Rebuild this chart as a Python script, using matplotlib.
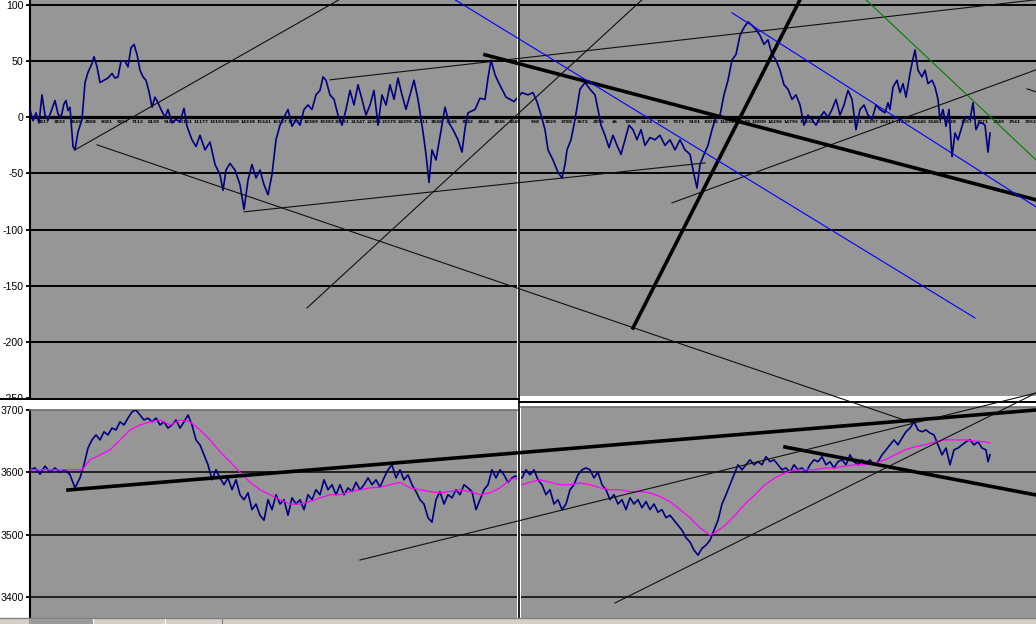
import numpy as np
import matplotlib.pyplot as plt
from matplotlib.patches import Rectangle
from matplotlib.lines import Line2D

W, H = 1036, 624

# oscillator (top chart): bar number, value
top_x = [0, 3, 6, 9, 12, 15, 18, 21, 25, 28, 31, 34, 36, 38, 40, 43, 45, 48, 52, 55,
         58, 62, 64, 67, 70, 74, 78, 82, 85, 88, 91, 95, 98, 101, 104, 107, 110, 113, 116, 119,
         122, 125, 128, 131, 135, 138, 142, 146, 150, 154, 157, 162, 166, 170, 175, 180, 185, 190, 193, 196,
         200, 205, 210, 214, 218, 222, 226, 230, 234, 238, 242, 246, 250, 254, 258, 262, 266, 270, 274, 278,
         282, 286, 290, 293, 296, 300, 304, 308, 312, 316, 320, 324, 328, 332, 336, 340, 344, 348, 352, 356,
         360, 364, 368, 372, 376, 380, 384, 388, 393, 396, 399, 402, 406, 410, 415, 419, 423, 428, 432, 435,
         438, 445, 450, 455, 458, 461, 465, 468, 472, 476, 480, 484,
         492, 498, 503, 507, 511, 515, 518, 523, 528, 532, 535, 537, 541, 545, 550, 555, 560, 565, 568, 571,
         575, 579, 583, 587, 591, 595, 599, 603, 607, 611, 615, 620, 625, 630, 635, 640, 645, 650, 655, 660,
         664, 667, 670, 674, 678, 682, 686, 690, 694, 698, 702, 706, 710, 714, 718, 722, 726, 730, 734, 738,
         742, 746, 750, 754, 758, 762, 766, 770, 774, 778, 782, 786, 790, 794, 798, 802, 806, 810, 814, 818,
         822, 826, 830, 834, 838, 842, 846, 850, 855, 858, 860, 863, 867, 870, 873, 876, 880, 882, 885, 888,
         892, 895, 898, 902, 905, 908, 910, 913, 916, 919, 922, 925, 928, 931, 934, 937, 940, 943, 946, 949,
         952, 955, 958, 960]
top_v = [7, -3, 4, -5, 20, 2, -2, 5, 15, 3, 0, 12, 15, 6, 9, -26, -29, -13, -2, 31,
         40, 48, 54, 45, 31, 33, 35, 39, 35, 36, 50, 50, 45, 62, 65, 56, 42, 36, 33, 23,
         9, 18, 13, 7, 0, 7, -5, -2, -4, 8, -8, -20, -26, -16, -29, -22, -42, -51, -65, -47,
         -41, -47, -60, -82, -56, -42, -54, -47, -60, -69, -51, -20, -7, 0, 7, -8, -2, -7, 7, 11,
         7, 20, 24, 36, 33, 20, 16, 2, -7, 7, 24, 11, 29, 16, 2, 11, 24, -7, 20, 11,
         29, 16, 35, 20, 7, 20, 33, 16, -13, -33, -58, -29, -38, -17, 9, -5, -11, -20, -31, -10,
         4, 7, 17, 16, 35, 51, 38, 32, 25, 18, 16, 14,
         22, 20, 22, 14, 2, -11, -29, -38, -49, -54, -42, -29, -20, -2, 25, 31, 25, 20, 7, -7,
         -16, -27, -16, -25, -33, -20, -7, -11, -20, -11, -25, -18, -20, -16, -25, -20, -29, -20, -29, -33,
         -51, -63, -42, -33, -25, -11, 0, 2, 20, 33, 51, 56, 73, 80, 85, 82, 78, 73, 65, 69,
         56, 51, 42, 29, 25, 16, 20, 11, -7, 2, -2, -7, 0, 5, 0, 7, 16, 2, 11, 24,
         16, -11, 7, 11, 2, -2, 11, 7, 4, 13, 7, 27, 33, 22, 30, 18, 39, 48, 60, 42,
         36, 42, 30, 33, 27, 16, -2, 7, -8, 7, -35, -14, -20, -11, -2, 0, -2, 13, -11, -5,
         -5, -7, -31, -14]

# price (bottom chart)
bot_x = [0, 5, 10, 15, 20, 25, 30, 35, 40, 45, 50, 54, 58, 62, 66, 70, 74, 78, 82, 86,
         90, 94, 98, 102, 106, 110, 114, 118, 122, 126, 130, 134, 138, 142, 146, 150, 154, 158, 162, 166,
         170, 174, 178, 182, 186, 190, 194, 198, 202, 206, 210, 214, 218, 222, 226, 230, 234, 238, 242, 246,
         250, 254, 258, 262, 266, 270, 274, 278, 282, 286, 290, 294, 298, 302, 306, 310, 314, 318, 322, 326,
         330, 334, 338, 342, 346, 350, 354, 358, 362, 366, 370, 374, 378, 382, 386, 390, 394, 398, 402, 406,
         410, 414, 418, 422, 426, 430, 434, 438, 442, 446, 450, 454, 458, 462, 466, 470, 474, 478, 482, 485,
         492, 496, 500, 504, 508, 512, 516, 520, 524, 528, 532, 536, 540, 544, 548, 552, 556, 560, 564, 568,
         572, 576, 580, 584, 588, 592, 596, 600, 604, 608, 612, 616, 620, 624, 628, 632, 636, 640, 644, 648,
         652, 656, 660, 664, 668, 672, 676, 680, 684, 688, 692, 696, 700, 704, 708, 712, 716, 720, 724, 728,
         732, 736, 740, 744, 748, 752, 756, 760, 764, 768, 772, 776, 780, 784, 788, 792, 796, 800, 804, 808,
         812, 816, 820, 824, 828, 832, 836, 840, 844, 848, 852, 856, 860, 864, 868, 872, 876, 880, 884, 888,
         892, 896, 900, 904, 908, 912, 916, 920, 924, 928, 932, 936, 940, 944, 948, 952, 956, 958, 960]
bot_v = [3604, 3607, 3597, 3610, 3600, 3607, 3600, 3604, 3596, 3575, 3591, 3612, 3639, 3652, 3660, 3652, 3665, 3660, 3671, 3668,
         3681, 3676, 3687, 3697, 3700, 3692, 3684, 3687, 3681, 3687, 3676, 3681, 3671, 3676, 3684, 3671, 3681, 3692, 3676, 3652,
         3644, 3628, 3612, 3588, 3604, 3591, 3580, 3591, 3572, 3588, 3564, 3556, 3567, 3540, 3549, 3531, 3523, 3556, 3540, 3564,
         3549, 3556, 3531, 3559, 3549, 3556, 3540, 3564, 3556, 3572, 3564, 3588, 3572, 3580, 3564, 3580, 3564, 3575, 3569, 3584,
         3572, 3580, 3591, 3580, 3588, 3576, 3591, 3604, 3612, 3591, 3604, 3588, 3596, 3580, 3569, 3556, 3549, 3527, 3520, 3556,
         3569, 3549, 3564, 3559, 3572, 3564, 3580, 3575, 3569, 3540, 3556, 3572, 3580, 3604, 3591, 3604, 3596, 3584, 3591, 3594,
         3591, 3604, 3596, 3604, 3588, 3580, 3564, 3572, 3549, 3556, 3540, 3549, 3572, 3580, 3596, 3604, 3607, 3604, 3591, 3600,
         3580, 3572, 3556, 3564, 3549, 3556, 3540, 3559, 3549, 3556, 3543, 3553, 3540, 3549, 3536, 3540, 3527, 3531, 3523, 3515,
         3507, 3495, 3488, 3475, 3467, 3478, 3483, 3491, 3507, 3523, 3549, 3564, 3580, 3596, 3612, 3604, 3612, 3620, 3612, 3617,
         3612, 3625, 3617, 3620, 3612, 3604, 3607, 3600, 3612, 3604, 3607, 3600, 3612, 3620, 3617, 3625, 3612, 3617, 3607, 3617,
         3620, 3612, 3628, 3617, 3612, 3620, 3615, 3620, 3612, 3617, 3628, 3636, 3644, 3652, 3644, 3655, 3665, 3671, 3681, 3668,
         3665, 3668, 3663, 3660, 3644, 3628, 3639, 3612, 3636, 3639, 3644, 3649, 3652, 3644, 3649, 3639, 3636, 3617, 3628]

# moving average of price
ma_x = [0, 52, 60, 70, 80, 90, 100, 110, 120, 130, 140, 150, 160, 170, 180, 190, 200, 210, 220, 230,
        240, 250, 260, 270, 280, 290, 300, 310, 320, 330, 340, 350, 360, 370, 380, 390, 400, 410, 420, 430,
        440, 450, 460, 470, 480, 485,
        492, 500, 510, 520, 530, 540, 550, 560, 570, 580, 590, 600, 610, 620, 630, 640, 650, 660, 670, 680,
        686, 695, 705, 715, 725, 735, 745, 755, 765, 775, 785, 795, 805, 815, 825, 835, 845, 855, 865, 875,
        885, 895, 905, 915, 925, 935, 945, 955, 960]
ma_v = [3604, 3604, 3620, 3628, 3636, 3652, 3668, 3676, 3681, 3684, 3676, 3684, 3681, 3668, 3652, 3633, 3617, 3600, 3584, 3572,
        3564, 3556, 3549, 3549, 3553, 3559, 3564, 3564, 3569, 3572, 3575, 3576, 3580, 3584, 3575, 3572, 3569, 3567, 3569, 3572,
        3569, 3564, 3567, 3575, 3588, 3591,
        3580, 3584, 3588, 3584, 3580, 3580, 3583, 3580, 3575, 3572, 3572, 3569, 3569, 3567, 3561, 3553, 3540, 3527, 3511, 3499,
        3504, 3515, 3531, 3549, 3564, 3580, 3591, 3599, 3604, 3604, 3604, 3607, 3607, 3610, 3612, 3612, 3615, 3620, 3628, 3636,
        3641, 3644, 3649, 3652, 3652, 3652, 3650, 3649, 3647]

top_grid = [100, 50, -50, -100, -150, -200]
top_ticks = [100, 50, 0, -50, -100, -150, -200, -250]
bot_grid = [3600, 3500, 3400]
bot_ticks = [3700, 3600, 3500, 3400]

left_labels = ["3817", "3833", "3849", "4868", "5081", "5857", "7112", "8139", "9185", "10161",
               "11177", "13193", "13309", "14338", "15341", "16357", "17373", "18389", "19383", "20331",
               "21347", "22363", "23379", "24395", "25411", "3848", "3845", "3842", "3844", "3846", "3848"]
right_labels = ["938", "3829", "3788", "3672", "4896", "46", "7808", "9134", "7383", "7373",
                "9191", "10018", "11832", "11549", "13809", "14296", "14795", "15834", "16999", "18051",
                "18381", "19397", "20413", "21429", "22445", "23461", "3728", "3857", "3871", "3849",
                "3941", "3952"]

# hand drawn trend lines, ((bar, value), (bar, value))
thin_top = [((45, -29.0), (309, 104.7)),
            ((67, -24.5), (883, -272.3)),
            ((214, -84.2), (675, -40.6)),
            ((277, -169.8), (612, 104.7)),
            ((300, 33.4), (1006, 104.7)),
            ((642, -76.2), (1006, 42.3)),
            ((997, 25.4), (1006, 22.7))]
thick_top = [((455, 55.7), (1006, -73.5)),
             ((603, -187.6), (770, 104.7))]
blue_top = [((425, 104.7), (945, -178.7)),
            ((702, 93.1), (1006, -79.8))]
green_top = [((836, 104.7), (1006, -37.9))]
thick_bot = [((38, 3571.6), (1006, 3700.0)),
             ((755, 3640.6), (1006, 3563.6))]
thin_bot = [((330, 3459.2), (1006, 3727.3)),
            ((585, 3390.2), (1006, 3727.3))]

GRAY = '#969696'
NAVY = '#000080'

plt.rcParams['font.family'] = ['Liberation Sans', 'DejaVu Sans']

fig = plt.figure(figsize=(W / 100, H / 100), dpi=100)
fig.patch.set_facecolor('white')


def px_axes(x0, y0, x1, y1, z):
    return fig.add_axes([x0 / W, 1 - y1 / H, (x1 - x0) / W, (y1 - y0) / H], zorder=z)


ax_tl = px_axes(30, 0, 517, 398, 0)
ax_tr = px_axes(520, 0, 1036, 396, 0)
ax_bl = px_axes(30, 410, 517, 618, 2)
ax_br = px_axes(521, 407, 1036, 618, 2)

ax_tl.set_xlim(0, 487)
ax_tr.set_xlim(490, 1006)
ax_bl.set_xlim(0, 487)
ax_br.set_xlim(491, 1006)
ax_tl.set_ylim(-250, 104.5)
ax_tr.set_ylim(-248.2, 104.5)
ax_bl.set_ylim(3366.1, 3700)
ax_br.set_ylim(3366.1, 3704.8)

for ax in (ax_tl, ax_tr, ax_bl, ax_br):
    ax.set_facecolor(GRAY)
    for s in ax.spines.values():
        s.set_visible(False)

# top charts
for ax, pos, labels in ((ax_tl, 14 + 15.7 * np.arange(len(left_labels)), left_labels),
                        (ax_tr, 505 + 16 * np.arange(len(right_labels)), right_labels)):
    for g in top_grid:
        ax.axhline(g, color='black', lw=1.4, zorder=1)
    ax.plot(top_x, top_v, color=NAVY, lw=1.2, zorder=3)
    ax.spines['bottom'].set_visible(True)
    ax.spines['bottom'].set_position(('data', 0))
    ax.spines['bottom'].set_linewidth(2.3)
    ax.spines['bottom'].set_zorder(2)
    ax.set_xticks(pos)
    ax.set_xticklabels(labels)
    ax.tick_params(axis='x', length=0, pad=1.6, labelsize=3.1)
    for t in ax.get_xticklabels():
        t.set_fontweight('bold')
        t.set_family('DejaVu Sans')
    ax.set_yticks([])

ax_tl.spines['left'].set_visible(True)
ax_tl.spines['left'].set_linewidth(1.5)
ax_tl.set_yticks(top_ticks)
ax_tl.set_yticklabels([str(t) for t in top_ticks])
ax_tl.tick_params(axis='y', length=3.2, width=1.3, pad=1.6, labelsize=7.6)

# bottom charts
for ax in (ax_bl, ax_br):
    for g in bot_grid:
        ax.axhline(g, color='black', lw=1.1, zorder=1)
    ax.plot(bot_x, bot_v, color=NAVY, lw=1.2, zorder=3)
    ax.plot(ma_x, ma_v, color='#ff00ff', lw=0.9, zorder=4)
    ax.set_xticks([])
    ax.set_yticks([])
    ax.spines['top'].set_visible(True)
    ax.spines['top'].set_color('#6e6e6e')
    ax.spines['top'].set_linewidth(1.2)

ax_bl.spines['left'].set_visible(True)
ax_bl.spines['left'].set_linewidth(1.5)
ax_bl.set_yticks(bot_ticks)
ax_bl.set_yticklabels([str(t) for t in bot_ticks])
ax_bl.tick_params(axis='y', length=3.2, width=1.3, pad=1.6, labelsize=7.6)

# window frame: white cover under the top chart labels, separators, sheet tabs
fig.add_artist(Rectangle((0, 0), 30 / W, 1 - 398 / H, transform=fig.transFigure,
                         facecolor='white', edgecolor='none', zorder=1))
fig.add_artist(Line2D([0, 519 / W], [1 - 398.5 / H] * 2, transform=fig.transFigure,
                      color='black', lw=1.4, zorder=1.5))
fig.add_artist(Line2D([519 / W, 1], [1 - 401.5 / H] * 2, transform=fig.transFigure,
                      color='black', lw=1.4, zorder=1.5))
fig.add_artist(Line2D([518.5 / W] * 2, [1 - 618 / H, 1], transform=fig.transFigure,
                      color='black', lw=1.2, zorder=1.5))
fig.add_artist(Rectangle((0, 0), 1, 6 / H, transform=fig.transFigure,
                         facecolor='#d4d0c8', edgecolor='none', zorder=3))
fig.add_artist(Line2D([0, 1], [6 / H] * 2, transform=fig.transFigure,
                      color='#808080', lw=1.0, zorder=3.5))
fig.add_artist(Rectangle((29 / W, 0), 64 / W, 5 / H, transform=fig.transFigure,
                         facecolor='#9a9a9a', edgecolor='none', zorder=3.5))
for xs, c in ((93, 'white'), (165, 'white'), (222, '#808080')):
    fig.add_artist(Line2D([xs / W] * 2, [0, 5 / H], transform=fig.transFigure,
                          color=c, lw=0.8, zorder=3.6))

# trend lines drawn over everything
over = fig.add_axes([0, 0, 1, 1], zorder=5)
over.axis('off')
over.patch.set_alpha(0)


def draw(lines, ref, color, lw):
    for (x1, y1), (x2, y2) in lines:
        over.add_line(Line2D([x1, x2], [y1, y2], transform=ref.transData,
                             color=color, lw=lw, clip_on=False))


draw(thin_top, ax_tl, '#101010', 0.8)
draw(thick_top, ax_tl, 'black', 2.6)
draw(blue_top, ax_tl, '#0000ff', 0.8)
draw(green_top, ax_tl, '#008000', 0.8)
draw(thick_bot, ax_bl, 'black', 2.6)
draw(thin_bot, ax_bl, '#101010', 0.8)

fig.savefig('out.png', dpi=100, facecolor='white')
